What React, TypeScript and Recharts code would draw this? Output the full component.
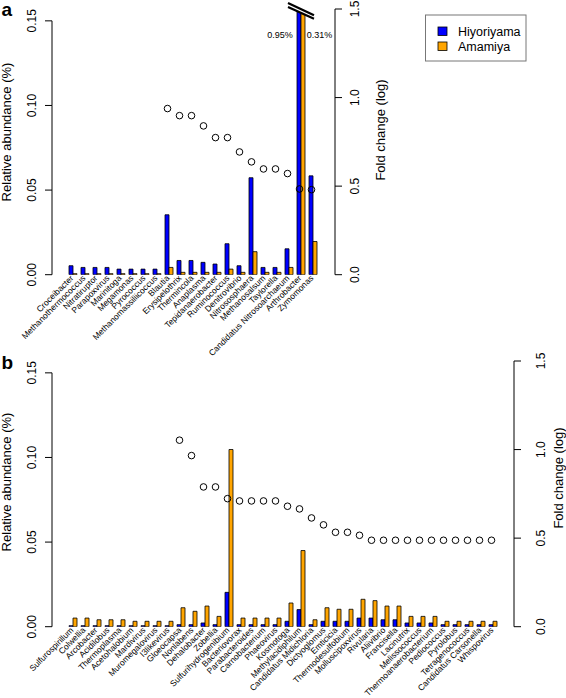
import React from "react";
import { ComposedChart, Bar, Line, XAxis, YAxis, ReferenceDot } from "recharts";

const FONT = '"Liberation Sans", Arial, Helvetica, sans-serif';
const BLUE = "#0000ff";
const ORANGE = "#ffa500";

// panel a
const genusA = [
  "Croceibacter", "Methanothermococcus", "Nitratiruptor", "Parapoxvirus", "Marinitoga",
  "Megamonas", "Pyrococcus", "Methanomassiliicoccus", "Blautia", "Erysipelothrix",
  "Thermincola", "Anaplasma", "Tepidanaerobacter", "Ruminococcus", "Denitrovibrio",
  "Nitrososphaera", "Methanosalsum", "Taylorella", "Candidatus Nitrosoarchaeum",
  "Arthrobacter", "Zymomonas",
];
const hiyoriA = [
  0.0053, 0.0043, 0.0043, 0.0043, 0.0033, 0.0033, 0.0033, 0.0033, 0.0354, 0.0084,
  0.0084, 0.0073, 0.0063, 0.0183, 0.0053, 0.0573, 0.0043, 0.0043, 0.0153, 0.95, 0.0584,
];
const amamiyaA = [
  0, 0, 0, 0, 0, 0, 0, 0, 0.0043, 0.0014,
  0.0014, 0.0014, 0.0014, 0.0033, 0.0014, 0.0136, 0.0014, 0.0014, 0.0043, 0.31, 0.0196,
];
const foldA = [
  null, null, null, null, null, null, null, null, 0.938, 0.898,
  0.898, 0.84, 0.774, 0.774, 0.693, 0.637, 0.597, 0.597, 0.571, 0.484, 0.48,
];

// panel b
const genusB = [
  "Sulfurospirillum", "Colwellia", "Arcobacter", "Acidilobus", "Thermoplasma",
  "Acetohalobium", "Mardivirus", "Muromegalovirus", "I3likevirus", "Gloeocapsa",
  "Nonlabens", "Dehalobacter", "Zobellia", "Sulfurihydrogenibium", "Bacteriovorax",
  "Parabacteroides", "Carnobacterium", "Phaeovirus", "Kosmotoga", "Methylacidiphilum",
  "Candidatus Midichloria", "Dictyoglomus", "Emticicia", "Thermodesulfobium",
  "Molluscipoxvirus", "Rivularia", "Aliivibrio", "Francisella", "Lacinutrix",
  "Melissococcus", "Thermoanaerobacterium", "Pediococcus", "Pyrolobus",
  "Tetragenococcus", "Candidatus Carsonella", "Whispovirus",
];
const hiyoriB = [
  0, 0, 0, 0, 0, 0, 0, 0, 0, 0.0012,
  0.0012, 0.0022, 0.0012, 0.0203, 0.0012, 0.0012, 0.0012, 0.0012, 0.0032, 0.0101,
  0.0012, 0.0032, 0.0032, 0.0032, 0.0051, 0.0051, 0.0041, 0.0041, 0.0022, 0.0022,
  0.0022, 0.0012, 0.0012, 0.0012, 0.0012, 0.0012,
];
const amamiyaB = [
  0.0051, 0.0051, 0.0041, 0.0041, 0.0041, 0.0032, 0.0032, 0.0032, 0.0032, 0.0112,
  0.0091, 0.0122, 0.0061, 0.1047, 0.0051, 0.0051, 0.0051, 0.0051, 0.014, 0.045,
  0.0041, 0.0112, 0.0103, 0.0103, 0.0162, 0.0154, 0.0122, 0.0122, 0.0061, 0.0061,
  0.0061, 0.0032, 0.0032, 0.0032, 0.0032, 0.0032,
];
const foldB = [
  null, null, null, null, null, null, null, null, null, 1.053,
  0.966, 0.789, 0.789, 0.723, 0.71, 0.71, 0.71, 0.71, 0.68, 0.665,
  0.614, 0.575, 0.533, 0.533, 0.516, 0.488, 0.488, 0.488, 0.488, 0.488,
  0.488, 0.488, 0.488, 0.488, 0.488, 0.488,
];

const abundTicks = [0, 0.05, 0.1, 0.15];
const foldTicks = [0, 0.5, 1, 1.5];
const ABUND_TOP = 0.157;
const FOLD_TOP = 1.5;

const W = 566;
const LEFT_W = 52;

function makeRows(genus: string[], hi: number[], am: number[], fold: (number | null)[]) {
  return genus.map((g, i) => ({ genus: g, hiyori: hi[i], amamiya: am[i], fold: fold[i] }));
}

function makeLeftTick(plotH: number) {
  return (p: any) => {
    const { x, y, payload } = p;
    const seg = (plotH * 0.05) / ABUND_TOP;
    const lx = x - 15.5;
    return (
      <g>
        <line x1={x - 7} x2={x} y1={y} y2={y} stroke="#000" />
        {payload.value < 0.15 && <line x1={x} x2={x} y1={y} y2={y - seg} stroke="#000" />}
        <text x={lx} y={y} transform={`rotate(-90 ${lx} ${y})`} textAnchor="middle"
          fontSize={12} fill="#000" fontFamily={FONT}>
          {payload.value.toFixed(2)}
        </text>
      </g>
    );
  };
}

function makeRightTick(labelOff: number) {
  return (p: any) => {
    const { x, y, payload } = p;
    const lx = x + labelOff;
    return (
      <g>
        <line x1={x} x2={x + 7} y1={y} y2={y} stroke="#000" />
        <text x={lx} y={y} transform={`rotate(-90 ${lx} ${y})`} textAnchor="middle"
          fontSize={12} fill="#000" fontFamily={FONT}>
          {payload.value.toFixed(1)}
        </text>
      </g>
    );
  };
}

const GenusTick = (p: any) => {
  const { x, y, payload } = p;
  const tx = x + 1;
  const ty = y + 4;
  return (
    <text x={tx} y={ty} transform={`rotate(-45 ${tx} ${ty})`} textAnchor="end"
      fontSize={8.5} fill="#000" fontFamily={FONT}>
      {payload.value}
    </text>
  );
};

const OpenDot = (p: any) => {
  if (p.value == null || p.cx == null || p.cy == null) return <g key={p.index} />;
  return <circle key={p.index} cx={p.cx - 1.5} cy={p.cy} r={3.3} fill="none" stroke="#000" strokeWidth={1} />;
};

function BreakMark({ cx, cy, hi, am }: any) {
  return (
    <g>
      <polygon
        points={`${cx - 13},${cy - 10} ${cx + 13},${cy - 10} ${cx + 13},${cy + 9.8} ${cx - 13},${cy - 2}`}
        fill="#fff"
      />
      <line x1={cx - 13} y1={cy - 6} x2={cx + 13} y2={cy + 6.2} stroke="#000" strokeWidth={2.2} />
      <line x1={cx - 13} y1={cy - 2} x2={cx + 13} y2={cy + 9.8} stroke="#000" strokeWidth={2.2} />
      <text x={cx - 8.3} y={cy + 28.5} textAnchor="end" fontSize={9} fill="#000" fontFamily={FONT}>
        {hi.toFixed(2)}%
      </text>
      <text x={cx + 5.7} y={cy + 28.5} fontSize={9} fill="#000" fontFamily={FONT}>
        {am.toFixed(2)}%
      </text>
    </g>
  );
}

function Panel({ genus, hi, am, fold, height, top, bottom, right, rightW, pad, rightLabelOff }: any) {
  const data = makeRows(genus, hi, am, fold);
  const plotH = height - top - bottom;
  const broken = data.filter((d: any) => d.hiyori > ABUND_TOP || d.amamiya > ABUND_TOP);
  return (
    <ComposedChart width={W} height={height} data={data} barGap={0}
      margin={{ top, right, bottom: 0, left: 0 }}>
      <XAxis dataKey="genus" type="category" interval={0} axisLine={false} tickLine={false}
        tickSize={0} tickMargin={0} padding={{ left: pad[0], right: pad[1] }} tick={GenusTick} height={bottom} />
      <YAxis yAxisId="left" orientation="left" width={LEFT_W} domain={[0, ABUND_TOP]}
        allowDataOverflow ticks={abundTicks} axisLine={false} tickLine={false} tickSize={0}
        tickMargin={0} tick={makeLeftTick(plotH)} />
      <YAxis yAxisId="right" orientation="right" width={rightW} domain={[0, FOLD_TOP]}
        ticks={foldTicks} axisLine={{ stroke: "#000" }} tickLine={false} tickSize={0}
        tickMargin={0} tick={makeRightTick(rightLabelOff)} />
      <Bar yAxisId="left" dataKey="hiyori" fill={BLUE} stroke="#000" strokeWidth={0.8}
        barSize={4} minPointSize={1} isAnimationActive={false} />
      <Bar yAxisId="left" dataKey="amamiya" fill={ORANGE} stroke="#000" strokeWidth={0.8}
        barSize={4} minPointSize={1} isAnimationActive={false} />
      {broken.map((d: any) => (
        <ReferenceDot key={d.genus} yAxisId="left" x={d.genus} y={ABUND_TOP} ifOverflow="visible"
          shape={(s: any) => <BreakMark cx={s.cx} cy={s.cy} hi={d.hiyori} am={d.amamiya} />} />
      ))}
      <Line yAxisId="right" dataKey="fold" stroke="none" dot={OpenDot} activeDot={false}
        connectNulls={false} isAnimationActive={false} />
    </ComposedChart>
  );
}

export default function App() {
  return (
    <div style={{ position: "absolute", left: 0, top: 0, width: W, height: 698, background: "#fff", fontFamily: FONT }}>
      <div style={{ position: "absolute", left: 0, top: 0 }}>
        <Panel genus={genusA} hi={hiyoriA} am={amamiyaA} fold={foldA} height={360}
          top={9} bottom={85.3} right={191} rightW={40} pad={[15, 16]} rightLabelOff={24} />
      </div>
      <div style={{ position: "absolute", left: 0, top: 340 }}>
        <Panel genus={genusB} hi={hiyoriB} am={amamiyaB} fold={foldB} height={358}
          top={21} bottom={71.3} right={0} rightW={52} pad={[15, 15]} rightLabelOff={31} />
      </div>
      <svg width={W} height={698} style={{ position: "absolute", left: 0, top: 0, pointerEvents: "none" }}>
        <g fontFamily={FONT} fill="#000">
          <text x={1.5} y={16} fontSize={19} fontWeight="bold">a</text>
          <text x={1.5} y={369} fontSize={19} fontWeight="bold">b</text>
          <text x={11} y={132} transform="rotate(-90 11 132)" textAnchor="middle" fontSize={13}>Relative abundance (%)</text>
          <text x={385} y={130} transform="rotate(-90 385 130)" textAnchor="middle" fontSize={13}>Fold change (log)</text>
          <text x={11} y={482} transform="rotate(-90 11 482)" textAnchor="middle" fontSize={13}>Relative abundance (%)</text>
          <text x={563} y={478} transform="rotate(-90 563 478)" textAnchor="middle" fontSize={13}>Fold change (log)</text>
          <rect x={425.5} y={15} width={100.5} height={46} fill="#fff" stroke="#777" strokeWidth={1} />
          <rect x={438} y={27} width={9} height={8.5} fill={BLUE} stroke="#000" strokeWidth={0.8} />
          <rect x={438} y={42} width={9} height={8.5} fill={ORANGE} stroke="#000" strokeWidth={0.8} />
          <text x={458} y={35.5} fontSize={12.5}>Hiyoriyama</text>
          <text x={458} y={50.5} fontSize={12.5}>Amamiya</text>
        </g>
      </svg>
    </div>
  );
}
